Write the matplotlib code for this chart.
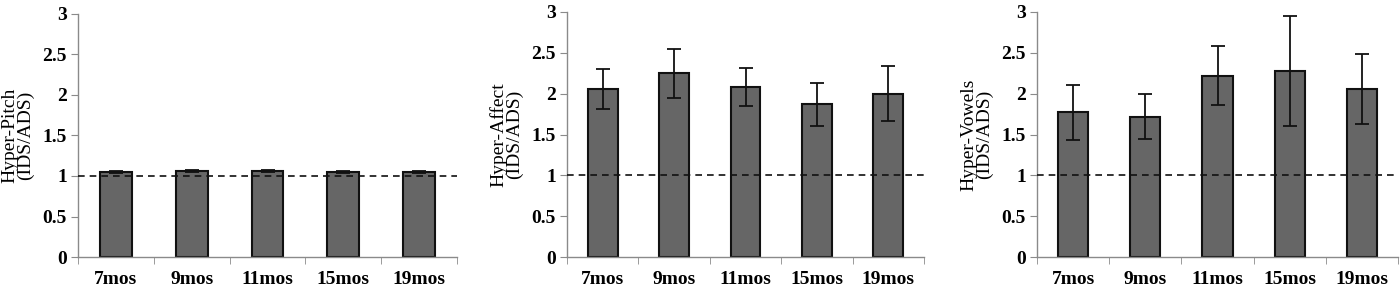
import matplotlib
matplotlib.use("Agg")
import matplotlib.pyplot as plt
import numpy as np

categories = ["7mos", "9mos", "11mos", "15mos", "19mos"]
pitch_vals = [1.05, 1.06, 1.06, 1.05, 1.05]
pitch_err = [0.01, 0.01, 0.01, 0.01, 0.01]
affect_vals = [2.06, 2.25, 2.08, 1.87, 2.00]
affect_err = [0.245, 0.30, 0.235, 0.26, 0.34]
vowels_vals = [1.77, 1.72, 2.22, 2.28, 2.06]
vowels_err = [0.34, 0.28, 0.36, 0.67, 0.43]
ylabels = ["Hyper-Pitch\n(IDS/ADS)", "Hyper-Affect\n(IDS/ADS)", "Hyper-Vowels\n(IDS/ADS)"]
yticks = [0, 0.5, 1, 1.5, 2, 2.5, 3]
yticklabels = ["0", "0.5", "1", "1.5", "2", "2.5", "3"]

plt.rcParams['font.family'] = ['Liberation Serif', 'DejaVu Serif']

fig = plt.figure(figsize=(14, 2.97), dpi=100)
rects = [
    [78/1400, 1-257/297, (457-78)/1400, (257-14)/297],
    [567/1400, 1-257/297, (924-567)/1400, (257-12)/297],
    [1037/1400, 1-257/297, (1398-1037)/1400, (257-12)/297],
]
series = [(pitch_vals, pitch_err), (affect_vals, affect_err), (vowels_vals, vowels_err)]
spine_col = "#8a8a8a"

for rect, (vals, errs), ylab in zip(rects, series, ylabels):
    ax = fig.add_axes(rect)
    x = np.arange(len(categories))
    ax.bar(x, vals, width=0.42, color="#666666", edgecolor="#111111", linewidth=1.5, zorder=2)
    ax.errorbar(x, vals, yerr=errs, fmt="none", ecolor="#111111", elinewidth=1.3,
                capsize=5, capthick=1.3, zorder=3)
    ax.axhline(1, color="#111111", linestyle=(0, (4, 3)), linewidth=1.2, zorder=4)
    ax.set_xlim(-0.5, len(categories) - 0.5)
    ax.set_ylim(0, 3)
    ax.set_yticks(yticks)
    ax.set_yticklabels(yticklabels, fontsize=14, fontweight="bold")
    ax.set_xticks(x)
    ax.set_xticklabels(categories, fontsize=14, fontweight="bold")
    ax.tick_params(axis="x", length=0, pad=10)
    ax.set_xticks(np.arange(-0.5, len(categories)), minor=True)
    ax.tick_params(axis="x", which="minor", length=5, color=spine_col, direction="out")
    ax.tick_params(axis="y", length=5, color=spine_col, direction="out", pad=3)
    for s in ["top", "right"]:
        ax.spines[s].set_visible(False)
    for s in ["left", "bottom"]:
        ax.spines[s].set_color(spine_col)
        ax.spines[s].set_linewidth(1.0)
    ax.set_ylabel(ylab, fontsize=14, linespacing=0.9, labelpad=6)

fig.savefig("out.png", dpi=100)
